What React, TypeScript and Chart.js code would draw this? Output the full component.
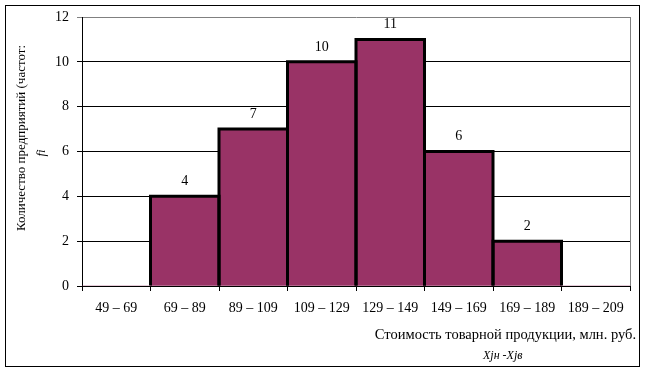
import React, { useEffect, useRef } from "react";
import { Chart, registerables } from "chart.js";

Chart.register(...registerables);

const categories = ["49 – 69", "69 – 89", "89 – 109", "109 – 129", "129 – 149", "149 – 169", "169 – 189", "189 – 209"];
const frequencies = [0, 4, 7, 10, 11, 6, 2, 0];
const yTicks = [0, 2, 4, 6, 8, 10, 12];
const yTitle = "Количество предприятий (частот:";
const yTitle2 = "fi";
const xTitle = "Стоимость товарной продукции, млн. руб.";
const xTitle2 = "Xjн -Xjв";

const FONT = "'Liberation Serif', 'Times New Roman', serif";

const decorPlugin = {
  id: "decor",
  afterDatasetsDraw(chart: any) {
    const { ctx } = chart;
    const meta = chart.getDatasetMeta(0);
    ctx.save();
    ctx.strokeStyle = "#000";
    ctx.lineWidth = 3;
    ctx.lineJoin = "miter";
    meta.data.forEach((bar: any, i: number) => {
      if (frequencies[i] <= 0) return;
      const p = bar.getProps(["x", "y", "base", "width"], true);
      const l = p.x - p.width / 2;
      const r = p.x + p.width / 2;
      ctx.beginPath();
      ctx.moveTo(l, p.base);
      ctx.lineTo(l, p.y);
      ctx.lineTo(r, p.y);
      ctx.lineTo(r, p.base);
      ctx.stroke();
    });
    ctx.restore();
  },
  afterDraw(chart: any) {
    const { ctx, chartArea } = chart;
    ctx.save();
    ctx.strokeStyle = "#808080";
    ctx.lineWidth = 1;
    ctx.beginPath();
    ctx.moveTo(Math.round(chartArea.right) + 0.5, chartArea.top);
    ctx.lineTo(Math.round(chartArea.right) + 0.5, chartArea.bottom);
    ctx.stroke();
    ctx.strokeStyle = "#000";
    ctx.strokeRect(5.5, 5.5, 634, 361);
    const meta = chart.getDatasetMeta(0);
    ctx.fillStyle = "#000";
    ctx.font = `14px ${FONT}`;
    ctx.textAlign = "center";
    ctx.textBaseline = "middle";
    meta.data.forEach((bar: any, i: number) => {
      const v = frequencies[i];
      if (v > 0) ctx.fillText(String(v), bar.x, bar.y - 15);
    });
    ctx.save();
    ctx.translate(22, 138);
    ctx.rotate(-Math.PI / 2);
    ctx.font = `13px ${FONT}`;
    ctx.fillText(yTitle, 0, 0);
    ctx.restore();
    ctx.save();
    ctx.translate(42, 153);
    ctx.rotate(-Math.PI / 2);
    ctx.font = `italic 13px ${FONT}`;
    ctx.fillText(yTitle2, 0, 0);
    ctx.restore();
    ctx.textAlign = "right";
    ctx.font = `14.5px ${FONT}`;
    ctx.fillText(xTitle, 636, 335);
    ctx.textAlign = "left";
    ctx.font = `italic 12px ${FONT}`;
    ctx.fillText(xTitle2, 483, 356);
    ctx.restore();
  },
};

export default function App() {
  const ref = useRef<HTMLCanvasElement>(null);
  useEffect(() => {
    document.body.style.margin = "0";
    const chart = new Chart(ref.current!, {
      type: "bar",
      data: {
        labels: categories,
        datasets: [
          {
            data: frequencies,
            backgroundColor: "#993366",
            borderWidth: 0,
            barPercentage: 1,
            categoryPercentage: 1,
          },
        ],
      },
      options: {
        animation: false,
        responsive: false,
        devicePixelRatio: 1,
        layout: { padding: { left: 0, top: 17, right: 16, bottom: 0 } },
        plugins: { legend: { display: false }, tooltip: { enabled: false } },
        scales: {
          x: {
            afterFit: (s: any) => { s.height = 88; },
            grid: { offset: true, drawOnChartArea: false, drawTicks: true, tickLength: 5, color: "#000" },
            border: { color: "#000", width: 1 },
            ticks: { color: "#000", font: { family: FONT, size: 14 }, padding: 9, maxRotation: 0, autoSkip: false },
          },
          y: {
            min: 0,
            max: 12,
            afterFit: (s: any) => { s.width = 82; },
            afterBuildTicks: (s: any) => { s.ticks = yTicks.map((v) => ({ value: v })); },
            grid: {
              color: (c: any) => (c.tick && c.tick.value === 12 ? "#808080" : "#000"),
              tickLength: 5,
              lineWidth: 1,
            },
            border: { color: "#000", width: 1 },
            ticks: { color: "#000", font: { family: FONT, size: 14 }, padding: 8 },
          },
        },
      },
      plugins: [decorPlugin],
    });
    return () => chart.destroy();
  }, []);
  return <canvas ref={ref} width={646} height={374} style={{ display: "block" }} />;
}
